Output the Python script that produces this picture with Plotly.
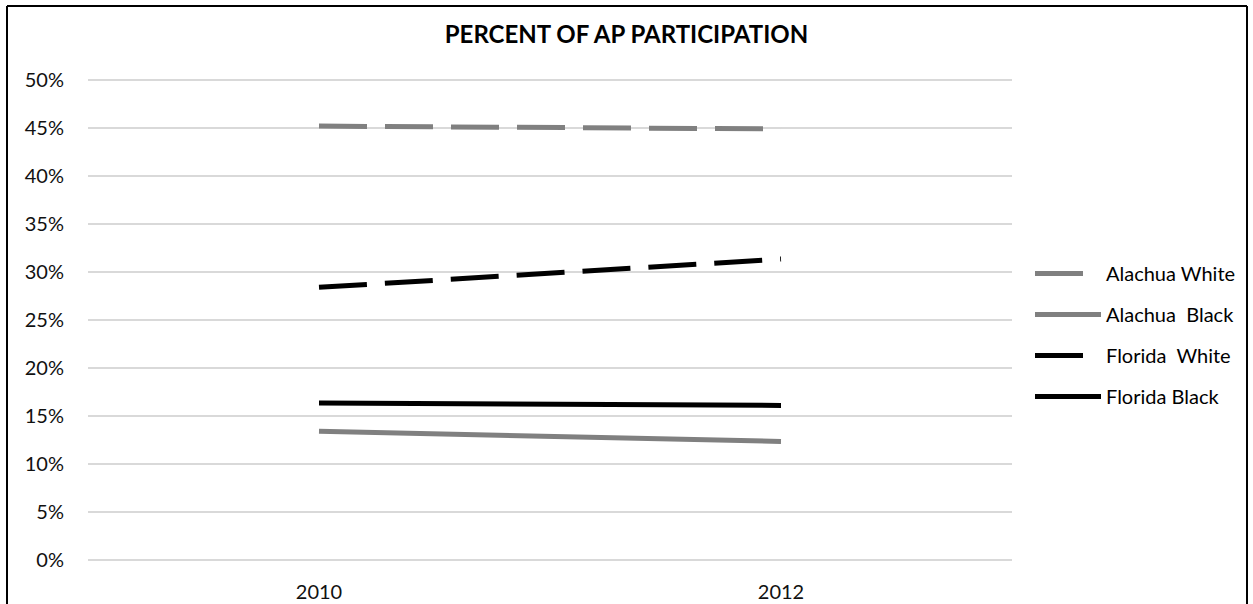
import plotly.graph_objects as go

years = ["2010", "2012"]
alachua_white = [0.452, 0.449]
alachua_black = [0.134, 0.1235]
florida_white = [0.284, 0.3135]
florida_black = [0.1635, 0.161]
y_ticks = [0, 0.05, 0.10, 0.15, 0.20, 0.25, 0.30, 0.35, 0.40, 0.45, 0.50]

GRAY = "#808080"
BLACK = "#000000"
DASH = "48px,18px"
FONT = "Lato"

fig = go.Figure()
series = [
    ("Alachua White", alachua_white, GRAY, DASH),
    ("Alachua  Black", alachua_black, GRAY, "solid"),
    ("Florida  White", florida_white, BLACK, DASH),
    ("Florida Black", florida_black, BLACK, "solid"),
]
for i, (name, vals, color, dash) in enumerate(series):
    fig.add_trace(go.Scatter(
        x=years, y=vals, name=name, mode="lines",
        line=dict(color=color, width=5, dash=dash),
        legendgroup=f"g{i}",
    ))

# plot area: x 88..1012, y 78..562 (0% at 560, 50% at 80)
pad = 0.5 * 2 / 480
PX = lambda px: (562 - px) / 484  # pixel row -> paper y
PXx = lambda px: (px - 88) / 924  # pixel col -> paper x
border = dict(color="black", width=2)
fig.update_layout(
    width=1253, height=604, autosize=False,
    margin=dict(l=88, r=241, t=78, b=42, autoexpand=False),
    paper_bgcolor="white", plot_bgcolor="white",
    title=dict(text="<b>PERCENT OF AP PARTICIPATION</b>", x=0.5, xref="container",
               y=1 - 35 / 604, yref="container", xanchor="center", yanchor="middle",
               font=dict(family=FONT, size=24, color="black")),
    font=dict(family=FONT, size=20, color="#111"),
    showlegend=True,
    legend=dict(x=PXx(1030), xanchor="left", y=PX(254), yanchor="top",
                font=dict(family=FONT, size=20, color="black"),
                tracegroupgap=12, itemwidth=66, bgcolor="rgba(0,0,0,0)",
                traceorder="grouped"),
    xaxis=dict(type="category", range=[-0.5, 1.5], showgrid=False, showline=False,
               zeroline=False, ticks="", ticklabelstandoff=16, automargin=False,
               tickfont=dict(family=FONT, size=20, color="#111")),
    yaxis=dict(range=[-pad, 0.5 + pad], tickvals=y_ticks, tickformat=".0%", showgrid=True,
               gridcolor="#d9d9d9", gridwidth=1.5, zeroline=False, showline=False,
               ticks="", ticklabelstandoff=23, automargin=False,
               tickfont=dict(family=FONT, size=20, color="#111")),
    shapes=[
        dict(type="line", xref="paper", yref="paper", x0=PXx(7), x1=PXx(1247),
             y0=PX(6), y1=PX(6), line=border),
        dict(type="line", xref="paper", yref="paper", x0=PXx(7), x1=PXx(7),
             y0=PX(6), y1=PX(640), line=border),
        dict(type="line", xref="paper", yref="paper", x0=PXx(1247), x1=PXx(1247),
             y0=PX(6), y1=PX(640), line=border),
    ],
)

fig.write_html("out.html", config={"displayModeBar": False},
               post_script="document.body.style.margin='0';document.body.style.overflow='hidden';")
